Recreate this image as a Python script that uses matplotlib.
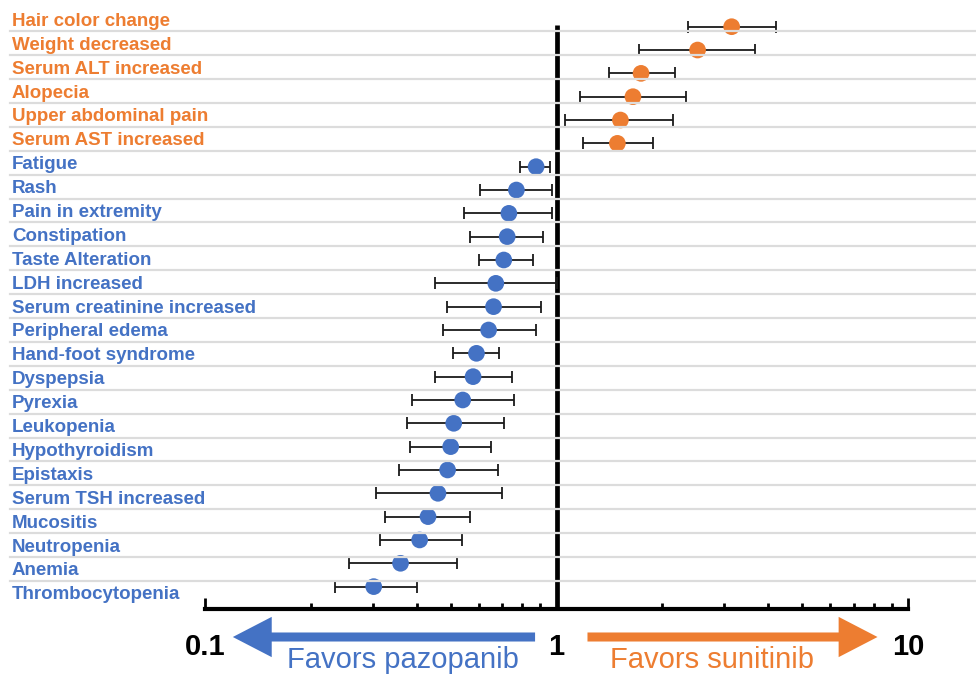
import matplotlib
matplotlib.use("Agg")
import matplotlib.pyplot as plt
from matplotlib.ticker import FixedLocator, NullFormatter
from matplotlib.transforms import blended_transform_factory
import numpy as np

plt.rcParams['font.family'] = ['Liberation Sans', 'DejaVu Sans']

# adverse events, top to bottom
events = ["Hair color change", "Weight decreased", "Serum ALT increased", "Alopecia",
          "Upper abdominal pain", "Serum AST increased", "Fatigue", "Rash",
          "Pain in extremity", "Constipation", "Taste Alteration", "LDH increased",
          "Serum creatinine increased", "Peripheral edema", "Hand-foot syndrome",
          "Dyspepsia", "Pyrexia", "Leukopenia", "Hypothyroidism", "Epistaxis",
          "Serum TSH increased", "Mucositis", "Neutropenia", "Anemia", "Thrombocytopenia"]
ratio = [3.15, 2.52, 1.74, 1.65, 1.52, 1.49, 0.875, 0.769, 0.732, 0.724, 0.708, 0.672,
         0.662, 0.641, 0.592, 0.579, 0.541, 0.510, 0.500, 0.490, 0.460, 0.431, 0.408,
         0.360, 0.302]
ci_low = [2.37, 1.72, 1.41, 1.165, 1.06, 1.19, 0.788, 0.605, 0.544, 0.567, 0.600, 0.450,
          0.489, 0.476, 0.506, 0.450, 0.388, 0.375, 0.383, 0.357, 0.307, 0.326, 0.315,
          0.257, 0.234]
ci_high = [4.20, 3.68, 2.18, 2.34, 2.15, 1.88, 0.96, 0.972, 0.972, 0.917, 0.859, 1.0,
           0.901, 0.877, 0.685, 0.745, 0.756, 0.710, 0.653, 0.681, 0.702, 0.568, 0.540,
           0.522, 0.400]
n_sunitinib = 6  # first rows favour sunitinib

tick_vals = [0.1, 1, 10]
tick_text = ["0.1", "1", "10"]

ORANGE = "#ED7D31"
BLUE = "#4472C4"

W, H = 976, 674
fig = plt.figure(figsize=(W / 100, H / 100), dpi=100)
ax = fig.add_axes([0, 0, 1, 1])
ax2 = ax.twinx()

# x: 0.1 at px 205, 10 at px 908
dec = (908 - 205) / 2
ax.set_xscale('log')
ax.set_xlim(10 ** (-1 - 205 / dec), 10 ** (-1 + (W - 205) / dec))

# point rows: first row at px 26.7, spacing 23.33
sp = 23.33
ax.set_ylim((H - 26.7) / sp, -26.7 / sp)
# label rows: first row at px 19.3, spacing 23.9
sp2 = 23.9
ax2.set_ylim((H - 19.3) / sp2, -19.3 / sp2)

ratio = np.array(ratio)
lo = np.array(ci_low)
hi = np.array(ci_high)
y = np.arange(len(events))
cols = [ORANGE if i < n_sunitinib else BLUE for i in range(len(events))]

ax.vlines(1, -0.07, (609 - 26.7) / sp, color='black', lw=3.4, zorder=1)
ax.errorbar(ratio, y, xerr=[ratio - lo, hi - ratio], fmt='none', ecolor='#1a1a1a',
            elinewidth=1.3, capsize=4.5, capthick=1.3, zorder=2)
ax.scatter(ratio, y, s=12 ** 2, c=cols, zorder=3, linewidths=0)

# axis at the bottom
for s in ['top', 'left', 'right']:
    ax.spines[s].set_visible(False)
ax.spines['bottom'].set_position(('axes', 1 - 609 / H))
ax.spines['bottom'].set_bounds(0.1, 10)
ax.spines['bottom'].set_linewidth(3)
ax.xaxis.set_major_locator(FixedLocator(tick_vals))
ax.set_xticklabels(tick_text, fontsize=21, fontweight='bold')
ax.xaxis.set_minor_locator(FixedLocator([k * 0.1 for k in range(2, 10)] + list(range(2, 10))))
ax.xaxis.set_minor_formatter(NullFormatter())
ax.tick_params(axis='x', which='major', direction='in', length=8, width=2, pad=17)
ax.tick_params(axis='x', which='minor', direction='in', length=4.5, width=2)
ax.set_yticks([])

for s in ax2.spines.values():
    s.set_visible(False)
ax2.set_yticks([])

# gridlines and row labels
for j in range(len(events) - 1):
    ax2.axhline(j + 0.5, xmin=10 / W, xmax=1, color='#dcdcdc', lw=1.6)
tr = blended_transform_factory(ax2.transAxes, ax2.transData)
for j, name in enumerate(events):
    ax2.text(12 / W, j, name, transform=tr, ha='left', va='center_baseline', fontsize=13.5,
             fontweight='bold', color=cols[j])

# direction arrows
ftr = blended_transform_factory(ax.transData, fig.transFigure)
ay = 1 - 637 / H
style = 'simple,head_length=28,head_width=29,tail_width=6.5'
ax.annotate('', xy=(0.12, ay), xytext=(0.869, ay), xycoords=ftr, textcoords=ftr,
            arrowprops=dict(arrowstyle=style, color=BLUE, mutation_scale=1,
                            shrinkA=0, shrinkB=0, lw=0))
ax.annotate('', xy=(8.19, ay), xytext=(1.225, ay), xycoords=ftr, textcoords=ftr,
            arrowprops=dict(arrowstyle=style, color=ORANGE, mutation_scale=1,
                            shrinkA=0, shrinkB=0, lw=0))
fig.text(403 / W, 1 - 660 / H, "Favors pazopanib", ha='center', va='center',
         fontsize=21, color=BLUE)
fig.text(712 / W, 1 - 660 / H, "Favors sunitinib", ha='center', va='center',
         fontsize=21, color=ORANGE)

fig.savefig("out.png", dpi=100)
